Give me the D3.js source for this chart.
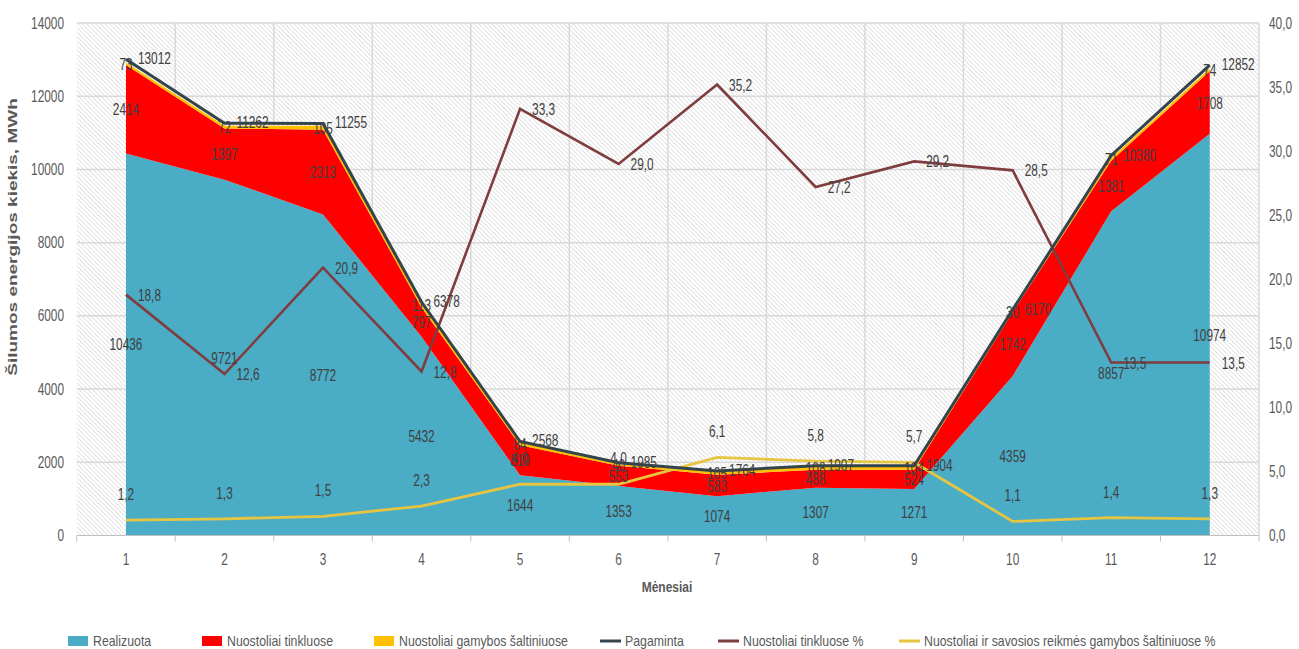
<!DOCTYPE html>
<html><head><meta charset="utf-8">
<script src="https://cdn.jsdelivr.net/npm/d3@7"></script>
<style>
html,body{margin:0;padding:0;background:#fff;}
svg text{font-family:"Liberation Sans",Arial,sans-serif;}
</style></head>
<body><svg id="c" width="1299" height="649"></svg>
<script>
const months = [1,2,3,4,5,6,7,8,9,10,11,12];
const realizuota = [10436,9721,8772,5432,1644,1353,1074,1307,1271,4359,8857,10974];
const nuostTinkluose = [2414,1397,2313,797,819,553,583,488,524,1742,1381,1708];
const nuostGamybos = [73,72,105,113,84,40,105,108,104,30,71,74];
const pagaminta = [13012,11262,11255,6378,2568,1985,1764,1907,1904,6170,10380,12852];
const tinkluosePct = [18.8,12.6,20.9,12.8,33.3,29.0,35.2,27.2,29.2,28.5,13.5,13.5];
const gamybosPct = [1.2,1.3,1.5,2.3,4.0,4.0,6.1,5.8,5.7,1.1,1.4,1.3];
const leftTicks = [0,2000,4000,6000,8000,10000,12000,14000];
const rightTicks = [0,5,10,15,20,25,30,35,40];

const svg = d3.select("#c");
const L = 76.7, R = 1259, T = 23, B = 535.5;
const x = d3.scaleBand().domain(months).range([L, R]).padding(0);
const cx = d => x(d) + x.bandwidth()/2;
const y = d3.scaleLinear().domain([0,14000]).range([B, T]);
const y2 = d3.scaleLinear().domain([0,40]).range([B, T]);

// condensed text helper
function txt(g, X, Y, s, o) {
  o = o || {};
  const sx = o.sx || 0.74, sy = o.sy || 1, rot = o.rot ? ` rotate(${o.rot})` : "";
  return g.append("text")
    .attr("transform", `translate(${X},${Y})${rot} scale(${sx},${sy})`)
    .attr("text-anchor", o.anchor || "start")
    .attr("font-size", o.size || 16)
    .attr("font-weight", o.bold ? "bold" : null)
    .attr("fill", o.fill || "#404040")
    .text(s);
}

const defs = svg.append("defs");
const pat = defs.append("pattern").attr("id","hatch").attr("patternUnits","userSpaceOnUse")
  .attr("width",4.5).attr("height",4.5);
pat.append("rect").attr("width",4.5).attr("height",4.5).attr("fill","#fff");
pat.append("path").attr("d","M0,0L4.5,4.5M-1,3.5L1,5.5M3.5,-1L5.5,1").attr("stroke","#cfcfcf").attr("stroke-width",0.85);

svg.append("rect").attr("x",L).attr("y",T).attr("width",R-L).attr("height",B-T).attr("fill","url(#hatch)");

// gridlines
svg.append("g").selectAll("line").data(leftTicks.filter(d=>d>0)).join("line")
  .attr("x1",L).attr("x2",R).attr("y1",d=>y(d)).attr("y2",d=>y(d))
  .attr("stroke","#d9d9d9").attr("stroke-width",1.5);
const bounds = months.map(m=>x(m)).slice(1).concat([R]);
svg.append("g").selectAll("line").data(bounds).join("line")
  .attr("x1",d=>d).attr("x2",d=>d).attr("y1",T).attr("y2",B)
  .attr("stroke","#d9d9d9").attr("stroke-width",1.5);

// stacked areas
const rows = months.map((m,i)=>({m, a:realizuota[i], b:nuostTinkluose[i], c:nuostGamybos[i]}));
const stack = d3.stack().keys(["a","b","c"])(rows);
const fills = ["#4bacc6","#ff0000","#ffc000"];
const area = d3.area().x(d=>cx(d.data.m)).y0(d=>y(d[0])).y1(d=>y(d[1]));
svg.append("g").selectAll("path").data(stack).join("path")
  .attr("d",area).attr("fill",(d,i)=>fills[i]);

// lines
const lineP = d3.line().x((d,i)=>cx(months[i])).y(d=>y(d));
const lineR = d3.line().x((d,i)=>cx(months[i])).y(d=>y2(d));
svg.append("path").attr("d",lineR(gamybosPct)).attr("fill","none").attr("stroke","#e6c540").attr("stroke-width",2.8);
svg.append("path").attr("d",lineR(tinkluosePct)).attr("fill","none").attr("stroke","#7f3d3f").attr("stroke-width",2.6);
svg.append("path").attr("d",lineP(pagaminta)).attr("fill","none").attr("stroke","#33444c").attr("stroke-width",3);

// axes
svg.append("line").attr("x1",L).attr("x2",R).attr("y1",B).attr("y2",B).attr("stroke","#bfbfbf").attr("stroke-width",1.2);
svg.append("g").selectAll("line").data([L].concat(bounds)).join("line")
  .attr("x1",d=>d).attr("x2",d=>d).attr("y1",B).attr("y2",B+6).attr("stroke","#bfbfbf");
const ax = svg.append("g");
const tc = "#595959";
months.forEach(m => txt(ax, cx(m), B+29, m, {anchor:"middle", fill:tc}));
leftTicks.forEach(v => txt(ax, 64, y(v)+5.5, v, {anchor:"end", fill:tc}));
const fmtR = d => d3.format(".1f")(d).replace(".",",");
rightTicks.forEach(v => txt(ax, 1269, y2(v)+5.5, fmtR(v), {fill:tc}));

txt(svg, 17, 237, "Šilumos  energijos kiekis, MWh", {rot:-90, anchor:"middle", bold:true, size:19, sx:1.0, sy:0.68, fill:tc});
txt(svg, 667, 592, "Mėnesiai", {anchor:"middle", bold:true, size:15, sx:0.8, fill:tc});

// data labels
const lab = svg.append("g");
rows.forEach((r,i)=>{
  const X = cx(r.m);
  txt(lab, X, y(r.a/2)+6, r.a, {anchor:"middle"});
  txt(lab, X, y(r.a+r.b/2)+6, r.b, {anchor:"middle"});
  txt(lab, X, y(r.a+r.b+r.c/2)+6, r.c, {anchor:"middle"});
  txt(lab, X+12, y(pagaminta[i])+5, pagaminta[i]);
  txt(lab, X+12, y2(tinkluosePct[i])+6, fmtR(tinkluosePct[i]));
  txt(lab, X, y2(gamybosPct[i])-20, fmtR(gamybosPct[i]), {anchor:"middle"});
});

// legend
const legItems = [
  {t:"Realizuota", c:"#4bacc6", k:"rect"},
  {t:"Nuostoliai tinkluose", c:"#ff0000", k:"rect"},
  {t:"Nuostoliai gamybos šaltiniuose", c:"#ffc000", k:"rect"},
  {t:"Pagaminta", c:"#33444c", k:"line"},
  {t:"Nuostoliai tinkluose %", c:"#7f3d3f", k:"line"},
  {t:"Nuostoliai ir savosios reikmės gamybos šaltiniuose %", c:"#e6c540", k:"line"}
];
const legX = [68, 202, 374, 600, 718, 899];
const lg = svg.append("g");
legItems.forEach((it,i)=>{
  const g = lg.append("g").attr("transform",`translate(${legX[i]},641)`);
  if (it.k==="rect") g.append("rect").attr("x",0).attr("y",-5).attr("width",20).attr("height",10).attr("fill",it.c);
  else g.append("line").attr("x1",0).attr("x2",21).attr("y1",0).attr("y2",0).attr("stroke",it.c).attr("stroke-width",3);
  txt(g, 25, 5, it.t, {size:14, sx:0.88, fill:tc});
});
</script></body></html>
